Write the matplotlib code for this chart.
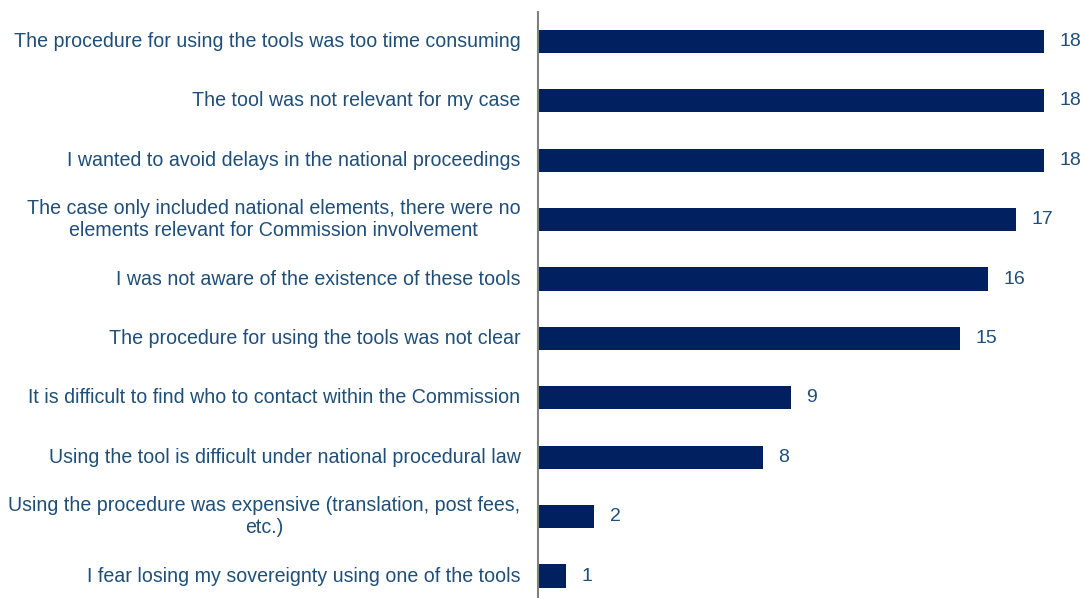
import matplotlib.pyplot as plt

# survey answers, top to bottom
reasons = [
    'The procedure for using the tools was too time consuming',
    'The tool was not relevant for my case',
    'I wanted to avoid delays in the national proceedings',
    'The case only included national elements, there were no\nelements relevant for Commission involvement',
    'I was not aware of the existence of these tools',
    'The procedure for using the tools was not clear',
    'It is difficult to find who to contact within the Commission',
    'Using the tool is difficult under national procedural law',
    'Using the procedure was expensive (translation, post fees,\netc.)',
    'I fear losing my sovereignty using one of the tools',
]
counts = [18, 18, 18, 17, 16, 15, 9, 8, 2, 1]

bar_col = '#002060'
txt_col = '#1f4e79'

plt.rcParams['font.family'] = ['Liberation Sans', 'DejaVu Sans']

fig = plt.figure(figsize=(10.85, 5.98), dpi=100)
ax = fig.add_axes([538/1085, -0.0129, 547/1085, 0.9933])

ypos = list(range(len(reasons)))
ax.barh(ypos, counts, height=0.39, color=bar_col)
ax.set_ylim(len(reasons) - 0.5, -0.5)
ax.set_xlim(0, 19.46)

for y, c in zip(ypos, counts):
    ax.text(c + 0.55, y, str(c), va='center', ha='left', fontsize=14, color=txt_col)

for y, r in zip(ypos, reasons):
    ax.text(-0.62, y, r, va='center', ha='right', multialignment='center',
            fontsize=14.1, color=txt_col, linespacing=1.15)

ax.set_xticks([])
ax.set_yticks([])
for s in ['top', 'right', 'bottom']:
    ax.spines[s].set_visible(False)
ax.spines['left'].set_color('#808080')
ax.spines['left'].set_linewidth(1.5)

fig.savefig('out.png', dpi=100)
